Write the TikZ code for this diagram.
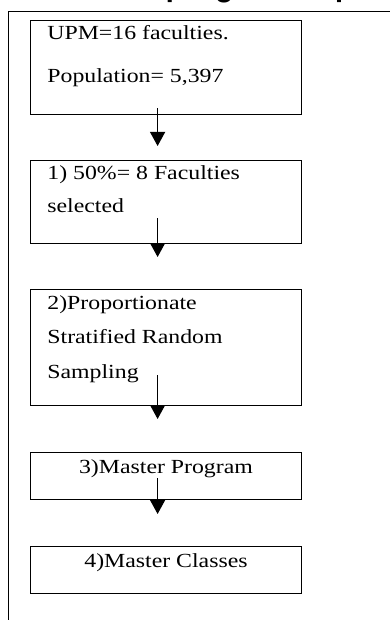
\documentclass[tikz,border=0pt]{standalone}
\usepackage{fontspec}
\setmainfont{Liberation Serif}[FakeStretch=1.19]
\newfontfamily\titlefont{Carlito}
\usetikzlibrary{arrows.meta,calc}
\tikzset{%
  stepbox/.style  = {shape=rectangle, draw, line width=0.6pt,%
                     minimum width=135.5pt, anchor=north west, inner sep=0pt},%
  steptext/.style = {anchor=base west, inner sep=0pt,%
                     font=\fontsize{10}{12}\selectfont},%
  flow/.style     = {-{Triangle[width=7.5pt,length=7pt]}, line width=0.6pt}%
}

\begin{document}
\begin{tikzpicture}[x=0.5pt,y=-0.5pt]
	\useasboundingbox (0,0) rectangle (390,620);
	\clip (0,0) rectangle (390,620);
	\node[anchor=base west, inner sep=0pt,
	      font=\titlefont\bfseries\fontsize{16.25}{18}\selectfont] (title) at (107.5,-2.5) {Sampling Techniques};
	\node[draw, line width=0.5pt, anchor=north west, inner sep=0pt,
	      minimum width=220pt, minimum height=330pt] (frame) at (8,11) {};
	\node[stepbox, minimum height=47pt]   (upm)     at (30,20)  {};
	\node[stepbox, minimum height=41.5pt] (select)  at (30,160) {};
	\node[stepbox, minimum height=58pt]   (strat)   at (30,289) {};
	\node[stepbox, minimum height=23.5pt] (prog)    at (30,452) {};
	\node[stepbox, minimum height=23.5pt] (classes) at (30,546) {};
	\node[steptext] (upmA) at (47,40)  {UPM=16 faculties.};
	\node[steptext] (upmB) at (47,83)  {Population= 5,397};
	\node[steptext] (selA) at (47,180) {1) 50\%= 8 Faculties};
	\node[steptext] (selB) at (47,213) {selected};
	\node[steptext] (strA) at (47,309) {2)Proportionate};
	\node[steptext] (strB) at (47,343) {Stratified Random};
	\node[steptext] (strC) at (47,378) {Sampling};
	\node[steptext, anchor=base] (progA) at (166,473) {3)Master Program};
	\node[steptext, anchor=base] (clsA)  at (166,567) {4)Master Classes};
	\coordinate (a1) at ($(upm.south)+(-8.5,-7)$);
	\coordinate (b1) at ($(select.north)+(-8.5,-14)$);
	\coordinate (a2) at ($(select.south)+(-8.5,-26)$);
	\coordinate (b2) at ($(strat.north)+(-8.5,-32)$);
	\coordinate (a3) at ($(strat.south)+(-8.5,-31)$);
	\coordinate (b3) at ($(prog.north)+(-8.5,-33)$);
	\coordinate (a4) at ($(prog.south)+(-8.5,-22)$);
	\coordinate (b4) at ($(classes.north)+(-8.5,-32)$);
	\draw[flow] (a1) -- (b1);
	\draw[flow] (a2) -- (b2);
	\draw[flow] (a3) -- (b3);
	\draw[flow] (a4) -- (b4);
\end{tikzpicture}
\end{document}
